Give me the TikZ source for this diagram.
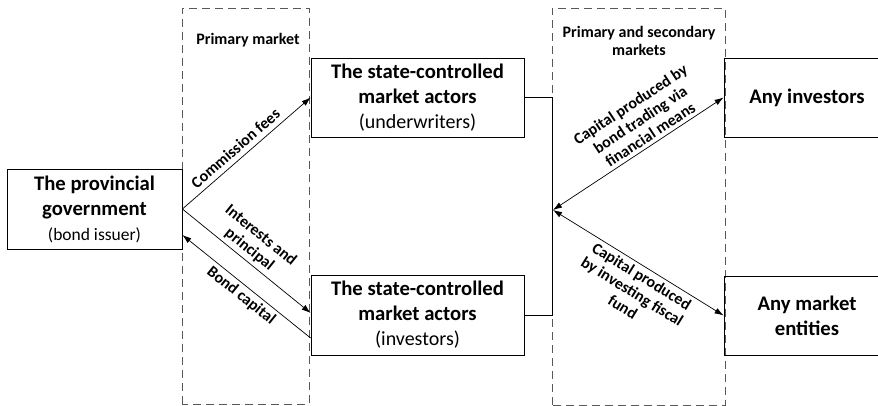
\documentclass[tikz,border=0pt]{standalone}
\usepackage{fontspec}
\setmainfont{Carlito}
\usetikzlibrary{arrows.meta}
\tikzset{%
box/.style={draw,line width=0.8pt,align=center,inner sep=2pt,
  font=\fontsize{20.7}{25}\selectfont\bfseries},
marketbox/.style={draw=black!65,line width=0.8pt,dash pattern=on 8pt off 5pt},
lbl/.style={font=\fontsize{16}{18}\selectfont\bfseries,align=center,inner sep=3.5pt},
flow/.style={line width=0.7pt,>={Latex[length=9pt,width=6pt]}},
}
\begin{document}
\begin{tikzpicture}[x=1pt,y=1pt]
    \useasboundingbox (0,0) rectangle (878,406);
    % market areas
    \draw[marketbox] (182,2) rectangle (309,398);
    \draw[marketbox] (552,1) rectangle (725,398);
    \node[lbl] (pm) at (248,366) {Primary market};
    \node[lbl] (psm) at (639,365) {Primary and secondary\\markets};
    % actors
    \node[box,minimum width=175pt,minimum height=80pt] (gov) at (94.5,197)
      {The provincial\\government\\{\mdseries\fontsize{17.5}{22}\selectfont(bond issuer)}};
    \node[box,minimum width=213pt,minimum height=79pt] (uw) at (417.5,308.5)
      {The state-controlled\\market actors\\{\mdseries\fontsize{20}{25}\selectfont(underwriters)}};
    \node[box,minimum width=213pt,minimum height=80pt] (inv) at (417.5,91)
      {The state-controlled\\market actors\\{\mdseries\fontsize{20}{25}\selectfont(investors)}};
    \node[box,minimum width=166pt,minimum height=79pt] (anyinv) at (807,308.5) {Any investors};
    \node[box,minimum width=166pt,minimum height=79pt] (anyent) at (807,90.5) {Any market\\entities};
    \coordinate (hub) at (553,196);
    % flows
    \draw[flow,->] (gov.east)--node[lbl,pos=0.47,sloped,above,inner sep=5pt]{Commission fees}(uw.west);
    \draw[flow,->] (gov.east)--node[lbl,pos=0.47,sloped,above]{Interests and\\principal}([yshift=2pt]inv.west);
    \draw[flow,->] ([yshift=-23pt]inv.west)--node[lbl,pos=0.49,sloped,below]{Bond capital}([yshift=-26pt]gov.east);
    \draw[line width=0.8pt] (uw.east) -- ++(28,0) |- (inv.east);
    \draw[flow,<->] (hub)--node[lbl,pos=0.6,sloped,above]{Capital produced by\\bond trading via\\financial means}(anyinv.west);
    \draw[flow,<->] (hub)--node[lbl,pos=0.55,sloped,below]{Capital produced\\by investing fiscal\\fund}(anyent.west);
\end{tikzpicture}
\end{document}
